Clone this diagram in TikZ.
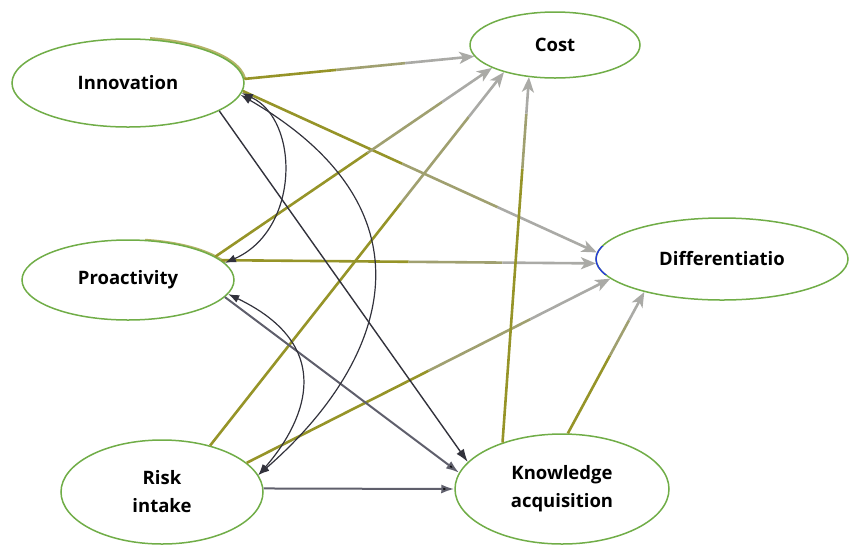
\documentclass[tikz,border=0pt]{standalone}
\usepackage{fontspec}
\setmainfont{Open Sans}
\usetikzlibrary{shapes.geometric, arrows.meta}
\definecolor{ellgreen}{RGB}{112,173,71}
\definecolor{olivec}{RGB}{150,148,40}
\definecolor{midc}{RGB}{160,160,112}
\definecolor{grayc}{RGB}{170,170,166}
\definecolor{darkc}{RGB}{50,50,60}
\definecolor{dgray}{RGB}{95,95,108}
\definecolor{hilite}{RGB}{40,60,220}
\tikzset{
  var/.style={ellipse, draw=ellgreen, line width=1.5pt, fill=white, inner sep=0pt,
    font=\bfseries\fontsize{18.5}{28}\selectfont, align=center},
  olv/.style={draw=olivec, line width=2.6pt},
  midl/.style={draw=midc, line width=2.6pt},
  gryl/.style={draw=grayc, line width=2.6pt, -{Stealth[length=15pt,width=12pt,inset=4pt]}},
  curv/.style={draw=darkc, line width=1.2pt, {Latex[length=11pt,width=8pt]}-{Latex[length=11pt,width=8pt]}},
  dk/.style={draw=darkc, line width=1.4pt, -{Latex[length=13pt,width=9pt]}},
  dkg/.style={draw=dgray, line width=2pt, -{Latex[length=13pt,width=9pt,fill=black]}},
  glow/.style={draw=olivec!70, line width=3.4pt},
}
\newcommand\gradconn[4]{%
  \path (#1) -- (#2) coordinate[pos=#3] (ga) coordinate[pos=#4] (gb);
  \draw[olv] (#1) -- (ga);
  \draw[midl] (ga) -- (gb);
  \draw[gryl] (gb) -- (#2);
}
\begin{document}
\begin{tikzpicture}[x=1pt,y=-1pt]
\useasboundingbox (0,0) rectangle (850,547);
% olive glow along some ellipse edges
\begin{scope}
  \clip (150,30) rectangle (250,78);
  \draw[glow] (128,83) ellipse [x radius=117pt, y radius=45pt];
\end{scope}
\begin{scope}
  \clip (145,232) rectangle (225,262);
  \draw[glow] (128,280) ellipse [x radius=107pt, y radius=40pt];
\end{scope}
% nodes
\node[var, minimum width=232pt, minimum height=88pt] (inn) at (128,83) {Innovation};
\node[var, minimum width=170pt, minimum height=66pt] (cost) at (555,45) {Cost};
\node[var, minimum width=252pt, minimum height=82pt] (diff) at (722,259) {Differentiatio};
\node[var, minimum width=212pt, minimum height=80pt] (pro) at (128,280) {Proactivity};
\node[var, minimum width=202pt, minimum height=104pt] (risk) at (162,492) {Risk\\intake};
\node[var, minimum width=214pt, minimum height=110pt] (know) at (562,489) {Knowledge\\acquisition};
% blue highlight on left edge of Differentiatio
\begin{scope}
  \clip (590,246) rectangle (612,274);
  \draw[hilite, line width=1.4pt] (diff.center) ellipse [x radius=126pt, y radius=41pt];
\end{scope}
% gradient (olive to grey) paths
\gradconn{inn.2}{cost.188}{0.4}{0.7}
\gradconn{inn.-4}{diff.177}{0.45}{0.72}
\gradconn{pro.15}{cost.200}{0.55}{0.82}
\gradconn{pro.12}{diff.182}{0.5}{0.75}
\gradconn{risk.44}{cost.208}{0.65}{0.88}
\gradconn{risk.19}{diff.190}{0.5}{0.78}
\gradconn{know.142}{cost.231}{0.75}{0.9}
\gradconn{know.84}{diff.203}{0.55}{0.8}
% dark straight paths
\draw[dk] (inn.-17) -- (know.164);
\draw[dkg] (pro.-10) -- (know.171);
\draw[dkg] (risk.2) -- (know.180);
% covariance curves
\draw[curv] (inn.-5) .. controls (300,120) and (300,230) .. (pro.10);
\draw[curv] (inn.-6) .. controls (441,211) and (388,362) .. (risk.10);
\draw[curv] (pro.-8) .. controls (351,353) and (290,439) .. (risk.10);
\end{tikzpicture}
\end{document}
